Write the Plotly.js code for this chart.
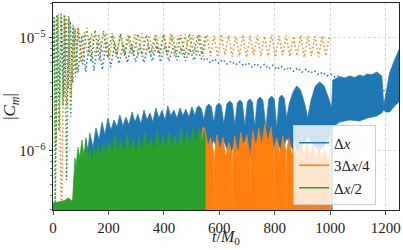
<!DOCTYPE html>
<html><head><meta charset="utf-8">
<script src="https://cdn.plot.ly/plotly-3.0.1.min.js"></script>
<style>html,body{margin:0;padding:0;background:#fff}#c{width:403px;height:250px}</style>
</head><body><div id="c"></div>
<script>
// ---- data (t in M0, |Cm|) ----
// Δx : solid (rapid oscillation, drawn as band) top / bottom envelopes
const bTopT = [80,86,97,108,119,126,133,144,155,166,177,187,198,209,220,231,241,252,263,274,285,296,306,317,328,339,350,360,371,382,393,404,414,425,436,447,458,469,479,490,501,512,519,526,535,544,553,562,571,580,589,598,607,616,627,638,647,656,665,674,683,692,701,710,719,728,737,746,757,768,778,789,798,807,816,825,834,843,852,866,879,893,910,919,930,946,962,978,995,1005,1009,1022,1034,1052,1070,1088,1106,1120,1132,1150,1168,1186,1193,1200,1214,1232,1243,1248];
const bTopV = [2.5e-7,6.09e-7,8.27e-7,7.03e-7,1.24e-6,1.01e-6,1.43e-6,1.07e-6,1.59e-6,1.24e-6,1.79e-6,1.38e-6,1.94e-6,1.52e-6,1.87e-6,1.62e-6,2.07e-6,1.65e-6,1.98e-6,1.69e-6,2.2e-6,1.79e-6,2.11e-6,1.72e-6,2.29e-6,1.87e-6,2.16e-6,1.79e-6,2.39e-6,1.94e-6,2.29e-6,1.87e-6,2.49e-6,2.03e-6,2.29e-6,1.94e-6,2.39e-6,2.03e-6,2.34e-6,1.98e-6,2.44e-6,2.03e-6,2.4e-6,2.49e-6,2.35e-6,1.87e-6,2.45e-6,2.59e-6,2.45e-6,1.79e-6,2.5e-6,2.64e-6,2.5e-6,1.72e-6,2.6e-6,2.75e-6,2.6e-6,1.69e-6,2.65e-6,2.81e-6,2.65e-6,1.65e-6,2.7e-6,2.87e-6,2.7e-6,1.62e-6,2.8e-6,2.98e-6,2.8e-6,1.59e-6,2.85e-6,3.05e-6,2.85e-6,1.59e-6,2.95e-6,3.11e-6,2.9e-6,1.95e-6,2.6e-6,3.31e-6,3.74e-6,3.44e-6,2.49e-6,1.95e-6,2.75e-6,3.74e-6,4.06e-6,3.74e-6,2.87e-6,2.39e-6,4.22e-6,4.4e-6,4.5e-6,4.4e-6,4.58e-6,4.45e-6,4.68e-6,4.55e-6,4.77e-6,4.7e-6,4.97e-6,4.58e-6,2.54e-6,3.11e-6,4.87e-6,6.35e-6,7.47e-6,7.8e-6];
const bLowT = [80,520,535,544,562,580,598,616,638,656,674,692,710,728,746,768,789,807,825,843,866,879,893,919,946,962,978,1003,1006,1009,1034,1070,1106,1132,1168,1186,1193,1200,1214,1232,1248];
const bLowV = [2.5e-7,2.5e-7,1.17e-6,1.3e-6,9.35e-7,1.24e-6,9.16e-7,1.22e-6,8.98e-7,1.19e-6,8.8e-7,1.24e-6,8.62e-7,1.22e-6,8.98e-7,1.24e-6,9.16e-7,1.27e-6,9.35e-7,1.3e-6,1.01e-6,9.5e-7,1.05e-6,1.35e-6,1.07e-6,1.01e-6,1.1e-6,1.43e-6,2.5e-7,1.62e-6,1.79e-6,1.87e-6,1.83e-6,1.94e-6,2.03e-6,2.16e-6,2.3e-6,2.2e-6,2.2e-6,2.49e-6,2.7e-6];
// Δx : dotted
const bDotT = [0,5,10,16,24,31,39,46,54,62,71,80,90,104,118,133,148,163,178,193,208,223,238,253,268,283,298,313,328,343,358,373,388,403,418,433,448,463,478,493,508,523,538,553,568,583,598,613,628,643,658,673,688,703,718,733,748,763,778,793,808,823,838,853,868,883,898,913,928,943,958,973,988,1003,1018,1033,1048,1063,1078,1093,1108,1123,1138,1153,1168,1183,1198,1213,1228,1238,1248];
const bDotV = [6e-6,1.45e-5,1e-6,1.55e-5,3e-6,1.5e-5,3e-6,1.5e-5,3.5e-6,1.4e-5,4e-6,1.2e-5,4.9e-6,1.05e-5,5.0e-6,9.8e-6,5.1e-6,9.5e-6,5.2e-6,9.3e-6,5.5e-6,9.0e-6,5.9e-6,8.8e-6,6.0e-6,8.8e-6,6.1e-6,8.6e-6,6.0e-6,8.6e-6,6.2e-6,8.5e-6,6.1e-6,8.5e-6,6.2e-6,8.3e-6,6.3e-6,8.2e-6,6.2e-6,8.0e-6,6.3e-6,7.6e-6,6.3e-6,6.6e-6,6.0e-6,6.5e-6,5.95e-6,6.4e-6,5.85e-6,6.2e-6,5.75e-6,6.1e-6,5.65e-6,6.0e-6,5.5e-6,5.9e-6,5.45e-6,5.8e-6,5.3e-6,5.7e-6,5.25e-6,5.6e-6,5.15e-6,5.5e-6,5.05e-6,5.4e-6,4.95e-6,5.25e-6,4.85e-6,5.1e-6,4.7e-6,4.95e-6,4.6e-6,4.75e-6,4.45e-6,4.6e-6,4.3e-6,4.45e-6,4.1e-6,4.25e-6,3.95e-6,4.05e-6,3.75e-6,3.85e-6,3.55e-6,3.65e-6,3.3e-6,3.4e-6,2.9e-6,3.1e-6,2.7e-6];
// 3Δx/4 : solid top envelope (filled to bottom)
const oSolidT = [0,30,60,70,76,90,120,150,200,250,300,350,400,450,500,530,541,548,559,569,580,581,583,591,602,613,623,634,645,646,648,656,667,678,688,699,710,711,713,721,732,742,753,764,775,786,796,797,799,807,818,829,840,841,843,851,861,872,883,894,905,906,908,915,926,937,948,959,969,980,991,998,1001];
const oSolidV = [3.4e-7,3.45e-7,3.5e-7,3.4e-7,6e-7,7.5e-7,8e-7,8e-7,8.5e-7,8.5e-7,8.5e-7,9e-7,9e-7,9e-7,9.5e-7,1.1e-6,1.62e-6,1.55e-6,1.1e-6,1.3e-6,9.3e-7,2.5e-7,9.3e-7,1.38e-6,1.0e-6,1.32e-6,8.8e-7,1.19e-6,9.5e-7,2.5e-7,9.5e-7,1.35e-6,9.0e-7,1.46e-6,1.05e-6,1.38e-6,9.5e-7,2.5e-7,9.5e-7,1.5e-6,1.07e-6,1.59e-6,1.12e-6,1.72e-6,1.2e-6,1.62e-6,1.05e-6,2.5e-7,1.05e-6,1.3e-6,9.2e-7,1.35e-6,1.0e-6,2.5e-7,1.0e-6,1.3e-6,9.0e-7,1.2e-6,8.6e-7,1.24e-6,9.0e-7,2.5e-7,9.0e-7,1.2e-6,8.8e-7,1.15e-6,8.5e-7,1.1e-6,8.3e-7,1.05e-6,8.0e-7,1.0e-6,2.5e-7];
// 3Δx/4 : dotted
const oDotT = [0,6,12,19,31,40,50,58,66,74,83,92,100,113,126,139,152,165,178,191,204,217,230,243,256,269,282,295,308,321,334,347,360,373,386,399,412,425,438,451,464,477,490,503,516,529,542,555,568,581,594,607,620,633,646,659,672,685,698,711,724,737,750,763,776,789,802,815,828,841,854,867,880,893,906,919,932,945,958,971,984,997];
const oDotV = [6e-6,1.5e-5,1.2e-6,1.6e-5,2e-7,1.58e-5,2.5e-6,1.5e-5,3e-6,1.28e-5,5e-6,1.2e-5,6.2e-6,1.12e-5,6.8e-6,1.1e-5,6.9e-6,1.08e-5,7.0e-6,1.1e-5,6.8e-6,1.06e-5,7.1e-6,1.08e-5,6.9e-6,1.05e-5,7.2e-6,1.07e-5,6.9e-6,1.09e-5,7.0e-6,1.05e-5,7.1e-6,1.07e-5,6.8e-6,1.06e-5,7.0e-6,1.08e-5,6.9e-6,1.05e-5,7.1e-6,1.07e-5,6.9e-6,1.06e-5,7.0e-6,1.08e-5,6.8e-6,1.06e-5,6.9e-6,1.04e-5,6.7e-6,1.07e-5,7.0e-6,1.05e-5,6.8e-6,1.03e-5,6.9e-6,1.06e-5,6.7e-6,1.04e-5,7.0e-6,1.05e-5,6.8e-6,1.03e-5,6.9e-6,1.06e-5,6.7e-6,1.04e-5,7.0e-6,1.05e-5,6.8e-6,1.03e-5,6.9e-6,1.05e-5,6.7e-6,1.04e-5,6.9e-6,1.03e-5,6.8e-6,1.04e-5,6.9e-6,1.02e-5];
// Δx/2 : solid top envelope (filled to bottom)
const gSolidT = [0,20,40,55,65,71,75,79,83,90,97,104,112,119,126,133,140,148,155,162,169,180,191,202,213,224,234,245,256,267,278,288,299,310,321,332,342,353,364,375,386,396,407,418,429,440,451,461,472,483,494,505,515,526,537,545,549];
const gSolidV = [3.44e-7,3.52e-7,3.6e-7,3.81e-7,3.66e-7,3.5e-7,6.0e-7,8.6e-7,7.2e-7,1.07e-6,8.6e-7,1.24e-6,9.0e-7,1.3e-6,8.3e-7,1.05e-6,8.0e-7,1.1e-6,8.6e-7,1.12e-6,8.8e-7,1.17e-6,9.2e-7,1.22e-6,9.6e-7,1.38e-6,1.0e-6,1.24e-6,9.4e-7,1.43e-6,1.0e-6,1.27e-6,9.6e-7,1.35e-6,1.02e-6,1.46e-6,1.05e-6,1.3e-6,1.0e-6,1.5e-6,1.07e-6,1.38e-6,1.05e-6,1.46e-6,1.1e-6,1.35e-6,1.05e-6,1.55e-6,1.1e-6,1.5e-6,1.12e-6,1.62e-6,1.17e-6,1.59e-6,1.2e-6,1.5e-6,1.3e-6];
// Δx/2 : dotted
const gDotT = [0,4,8,14,22,29,36,42,49,56,64,72,81,90,106,122,137,152,167,182,197,213,228,244,259,275,290,306,321,337,352,368,383,399,414,430,445,461,476,492,507,523,537,550];
const gDotV = [6e-6,1.55e-5,2e-7,1.6e-5,1.5e-6,1.62e-5,2.5e-6,1.6e-5,5.5e-7,1.55e-5,2e-6,1.3e-5,4.5e-6,1.24e-5,5.8e-6,1.22e-5,6.1e-6,1.17e-5,6.3e-6,1.15e-5,6.6e-6,1.1e-5,6.8e-6,1.08e-5,7.0e-6,1.06e-5,6.9e-6,1.08e-5,7.1e-6,1.06e-5,7.0e-6,1.05e-5,7.2e-6,1.07e-5,7.0e-6,1.05e-5,7.1e-6,1.06e-5,7.0e-6,1.08e-5,7.2e-6,1.06e-5,7.1e-6,1.04e-5];

const seriesNames = ['Δ<i>x</i>', '3Δ<i>x</i>/4', 'Δ<i>x</i>/2'];
const xTitle = '<i>t</i>/<i>M</i><sub>0</sub>';
const yTitle = '|<i>C<sub>m</sub></i>|';
const xTicks = [0,200,400,600,800,1000,1200];
const yTicks = [1e-6,1e-5];
const yTickText = ['10<sup>−6</sup>','10<sup>−5</sup>'];
const yMinor = [3e-7,4e-7,5e-7,6e-7,7e-7,8e-7,9e-7,2e-6,3e-6,4e-6,5e-6,6e-6,7e-6,8e-6,9e-6,2e-5];
const floorVal = 1e-8;

// ---- styling ----
const C = ['#1f77b4','#ff7f0e','#2ca02c'];
const FONT = '"Liberation Serif", "DejaVu Serif", serif';

function band(topT, topV, lowT, lowV, color){
  return {type:'scatter', mode:'lines',
    x: topT.concat(lowT.slice().reverse()),
    y: topV.concat(lowV.slice().reverse()),
    fill:'toself', fillcolor:color, line:{color:color, width:0.7},
    showlegend:false, hoverinfo:'skip'};
}
function toFloor(topT, topV, color){
  const n = topT.length;
  return band(topT, topV, [topT[0], topT[n-1]], [floorVal, floorVal], color);
}
function dotted(t, v, color){
  return {type:'scatter', mode:'lines', x:t, y:v,
    line:{color:color, width:1.5, dash:'1.5px,2.5px'},
    showlegend:false, hoverinfo:'skip'};
}
function legendItem(name, color){
  return {type:'scatter', mode:'lines', x:[null], y:[null], name:name,
    line:{color:color, width:1.5}, showlegend:true};
}

const traces = [
  band(bTopT, bTopV, bLowT, bLowV, C[0]),
  dotted(bDotT, bDotV, C[0]),
  toFloor(oSolidT, oSolidV, C[1]),
  dotted(oDotT, oDotV, C[1]),
  toFloor(gSolidT, gSolidV, C[2]),
  dotted(gDotT, gDotV, C[2]),
  legendItem(seriesNames[0], C[0]),
  legendItem(seriesNames[1], C[1]),
  legendItem(seriesNames[2], C[2])
];

const axisCommon = {
  showline:true, mirror:true, linecolor:'#222', linewidth:1,
  ticks:'outside', ticklen:3.5, tickwidth:0.8, tickcolor:'#222',
  showgrid:true, gridcolor:'#cfcfcf', griddash:'3px,2px', gridwidth:0.8,
  zeroline:false, automargin:false,
  tickfont:{family:FONT, size:15, color:'#222'}
};

const layout = {
  width:403, height:250,
  margin:{l:53, r:4, t:3, b:40},
  paper_bgcolor:'#fff', plot_bgcolor:'#fff',
  font:{family:FONT, color:'#222'},
  xaxis: Object.assign({}, axisCommon, {
    range:[0,1248], tickmode:'array', tickvals:xTicks,
    ticktext:xTicks.map(String)
  }),
  yaxis: Object.assign({}, axisCommon, {
    type:'log', range:[-6.525,-4.693], tickmode:'array',
    tickvals:yTicks, ticktext:yTickText,
    minor:{tickmode:'array', tickvals:yMinor, ticks:'outside', ticklen:2, tickwidth:0.6, tickcolor:'#222', showgrid:false},
    title:{text:yTitle, font:{family:FONT, size:17, color:'#222'}, standoff:6}
  }),
  annotations:[{text:xTitle, xref:'paper', yref:'paper', x:0.5, y:-0.132,
    xanchor:'center', yanchor:'middle', showarrow:false,
    font:{family:FONT, size:16, color:'#222'}}],
  legend:{x:0.694, y:0.022, xanchor:'left', yanchor:'bottom',
    bgcolor:'rgba(255,255,255,0.8)', bordercolor:'#cccccc', borderwidth:1,
    font:{family:FONT, size:15, color:'#222'}, tracegroupgap:0}
};

Plotly.newPlot('c', traces, layout, {staticPlot:true, displayModeBar:false});
</script></body></html>
